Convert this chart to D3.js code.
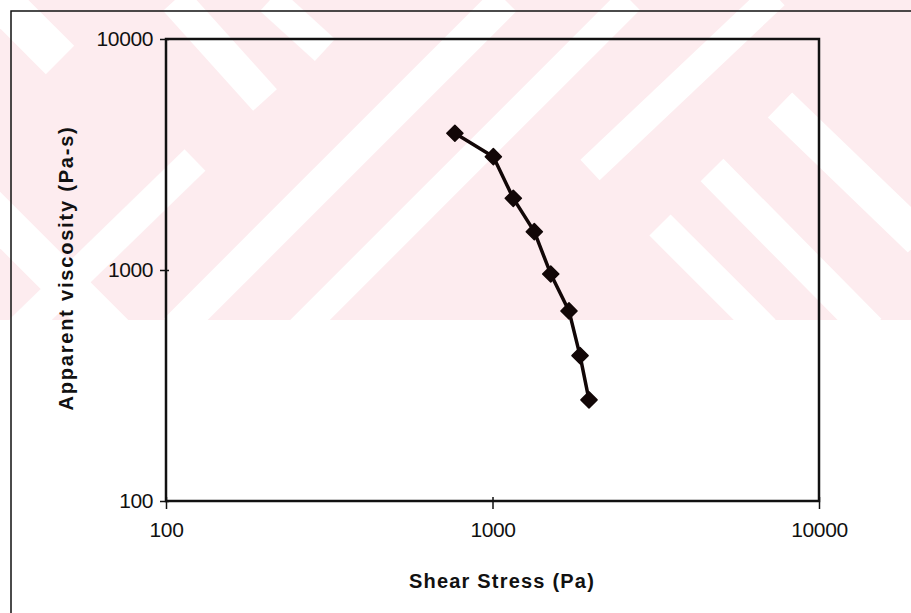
<!DOCTYPE html>
<html>
<head>
<meta charset="utf-8">
<script src="https://cdn.jsdelivr.net/npm/d3@7"></script>
<style>
  html, body { margin: 0; padding: 0; background: #fff; }
  svg { display: block; font-family: 'Liberation Sans', Arial, sans-serif; }
</style>
</head>
<body>
<script>
const shearStress = [767, 1006, 1158, 1343, 1508, 1715, 1854, 1975]
const viscosity = [3908, 3094, 2043, 1465, 961, 665, 426, 274]
const xTickValues = [100, 1000, 10000]
const yTickValues = [100, 1000, 10000]
const xTitle = 'Shear Stress (Pa)'
const yTitle = 'Apparent viscosity (Pa-s)'

// background watermark stripes (decoration only)
const stripes = [
  [-40, -40, 60, 60, 40],
  [175, 0, 265, 100, 32],
  [270, 0, 325, 50, 30],
  [175, 330, 505, 0, 32],
  [300, 330, 630, 0, 28],
  [20, 330, 195, 160, 30],
  [-20, 200, 120, 340, 40],
  [590, 170, 775, -5, 28],
  [780, 105, 920, 240, 35],
  [712, 170, 870, 330, 32],
  [660, 225, 765, 330, 30]
]

const SIZE = { WIDTH: 911, HEIGHT: 613 }
const PLOT = { LEFT: 166, RIGHT: 819, TOP: 39, BOTTOM: 501 }

const svg = d3.select('body').append('svg')
  .attr('width', SIZE.WIDTH)
  .attr('height', SIZE.HEIGHT)

// watermark
svg.append('clipPath').attr('id', 'wm-clip')
  .append('rect').attr('x', 0).attr('y', 0).attr('width', SIZE.WIDTH).attr('height', 320)

const wm = svg.append('g').attr('clip-path', 'url(#wm-clip)')
wm.append('rect')
  .attr('width', SIZE.WIDTH).attr('height', 320)
  .attr('fill', '#fdecef')
wm.selectAll('line')
  .data(stripes)
  .enter()
  .append('line')
  .attr('x1', d => d[0]).attr('y1', d => d[1])
  .attr('x2', d => d[2]).attr('y2', d => d[3])
  .attr('stroke', '#fff')
  .attr('stroke-width', d => d[4])

// outer frame
svg.append('path')
  .attr('d', `M11,${SIZE.HEIGHT} L11,11 L${SIZE.WIDTH},11`)
  .attr('fill', 'none')
  .attr('stroke', '#111')
  .attr('stroke-width', 1.5)

const x = d3.scaleLog().domain([100, 10000]).range([PLOT.LEFT, PLOT.RIGHT])
const y = d3.scaleLog().domain([100, 10000]).range([PLOT.BOTTOM, PLOT.TOP])

svg.append('rect')
  .attr('x', PLOT.LEFT).attr('y', PLOT.TOP)
  .attr('width', PLOT.RIGHT - PLOT.LEFT)
  .attr('height', PLOT.BOTTOM - PLOT.TOP)
  .attr('fill', 'none')
  .attr('stroke', '#111')
  .attr('stroke-width', 2.5)

const xAxis = svg.append('g')
  .attr('transform', `translate(0,${PLOT.BOTTOM})`)
  .call(d3.axisBottom(x).tickValues(xTickValues).tickFormat(d3.format('d')).tickSize(8).tickPadding(13))
xAxis.select('.domain').remove()
xAxis.selectAll('.tick line').attr('y1', -4).attr('stroke', '#111').attr('stroke-width', 1.5)
xAxis.selectAll('.tick text')
  .attr('fill', '#111')
  .style('font-size', '21px')
  .style('letter-spacing', '-0.4px')

const yAxis = svg.append('g')
  .attr('transform', `translate(${PLOT.LEFT},0)`)
  .call(d3.axisLeft(y).tickValues(yTickValues).tickFormat(d3.format('d')).tickSize(6).tickPadding(7))
yAxis.select('.domain').remove()
yAxis.selectAll('.tick line').attr('x1', 3).attr('stroke', '#111').attr('stroke-width', 1.5)
yAxis.selectAll('.tick text')
  .attr('fill', '#111')
  .style('font-size', '21px')
  .style('letter-spacing', '-0.4px')

const points = shearStress.map((s, i) => [s, viscosity[i]])

svg.append('path')
  .datum(points)
  .attr('fill', 'none')
  .attr('stroke', '#120707')
  .attr('stroke-width', 3.5)
  .attr('stroke-linejoin', 'round')
  .attr('d', d3.line().x(d => x(d[0])).y(d => y(d[1])))

svg.append('g')
  .selectAll('path')
  .data(points)
  .enter()
  .append('path')
  .attr('d', d3.symbol(d3.symbolSquare, 130))
  .attr('transform', d => `translate(${x(d[0])},${y(d[1])}) rotate(45)`)
  .attr('fill', '#120707')
  .attr('stroke', '#120707')
  .attr('stroke-width', 1.5)
  .attr('stroke-linejoin', 'round')

svg.append('text')
  .attr('x', 502).attr('y', 588)
  .attr('text-anchor', 'middle')
  .style('font-size', '20px')
  .style('font-weight', 'bold')
  .style('letter-spacing', '1.2px')
  .attr('fill', '#111')
  .text(xTitle)

svg.append('text')
  .attr('transform', 'translate(73,268) rotate(-90)')
  .attr('text-anchor', 'middle')
  .style('font-size', '20px')
  .style('font-weight', 'bold')
  .style('letter-spacing', '1.8px')
  .attr('fill', '#111')
  .text(yTitle)
</script>
</body>
</html>
